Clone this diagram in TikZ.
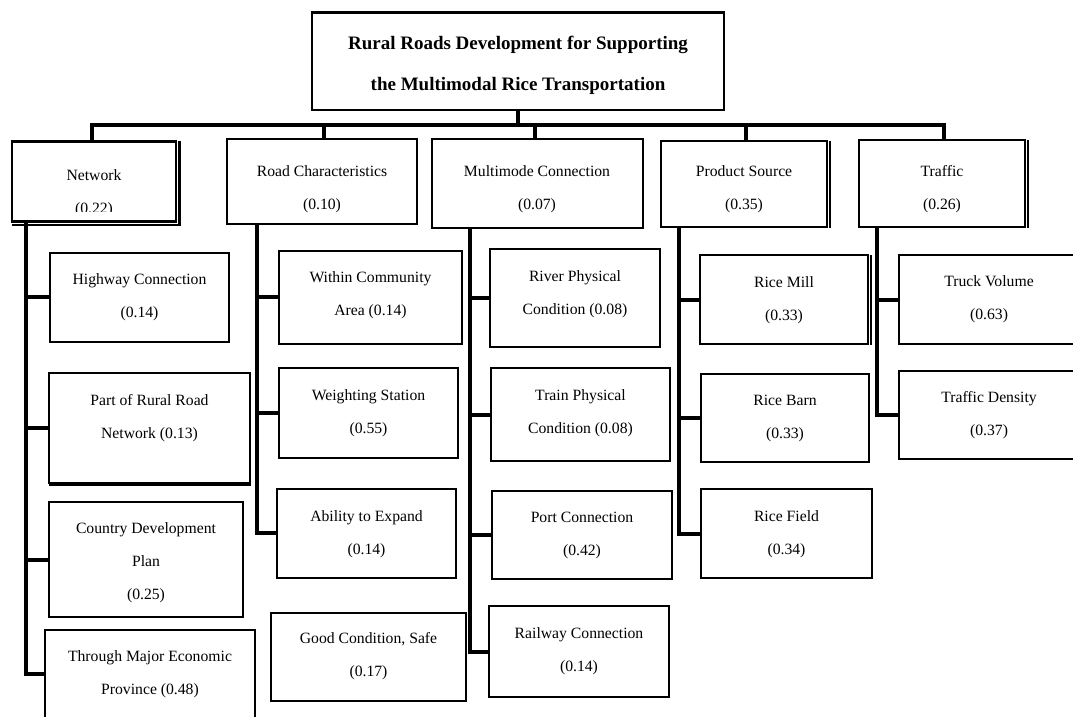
\documentclass[tikz,border=0pt]{standalone}
\usepackage{fontspec}
\setmainfont{Liberation Serif}
\begin{document}
\begin{tikzpicture}[x=1pt,y=-1pt,
  box/.style={draw=black, line width=2pt, fill=white, inner sep=0pt},
  rootbox/.style={box, line width=2.5pt},
  txt/.style={font=\fontsize{15.7}{33}\selectfont, align=center, inner sep=0pt},
  ttl/.style={font=\fontsize{19}{41}\selectfont\bfseries, align=center, inner sep=0pt},
  conn/.style={draw=black, line width=4pt, line join=miter},
  edge/.style={draw=black, line width=2.5pt}]
\newcommand\bxx[8][box]{%
  \node[#1, minimum width={(#5-#3)*1pt}, minimum height={(#6-#4)*1pt}] (#2) at ({(#3+#5)/2},{(#4+#6)/2}) {};
  \node[txt] (#2-t) at ({(#3+#5)/2},#7) {#8};}
\fill[white] (0,0) rectangle (1073,717);
\useasboundingbox (0,0) rectangle (1073,717);
% root
\node[rootbox, minimum width=412pt, minimum height=97.3pt] (root) at (518,61.35) {};
\node[ttl] (root-t) at (518,65.5) {Rural Roads Development for Supporting\\the Multimodal Rice Transportation};
% level 1
\bxx[box, line width=2.6pt]{net}{12}{141.7}{176}{221.7}{0}{}
\begin{scope}
  \clip (14,150) rectangle (174,211.5);
  \node[txt] (net-t) at (94,193) {Network\\(0.22)};
\end{scope}
\bxx{rc}{227}{139.3}{417}{224}{189}{Road Characteristics\\(0.10)}
\bxx{mm}{431.5}{139.3}{642.5}{228.3}{189}{Multimode Connection\\(0.07)}
\bxx{ps}{661}{140.7}{827}{227.3}{189}{Product Source\\(0.35)}
\bxx{tr}{859}{140}{1025}{226.7}{189}{Traffic\\(0.26)}
% level 2
\bxx{hc}{50}{252.7}{229}{341.7}{297.5}{Highway Connection\\(0.14)}
\bxx{pr}{49}{373.3}{250}{482.7}{418}{Part of Rural Road\\Network (0.13)}
\bxx{cd}{49}{501.7}{243}{617.3}{562.5}{Country Development\\Plan\\(0.25)}
\bxx{tm}{45}{630}{255}{722}{674.5}{Through Major Economic\\Province (0.48)}
\bxx{wc}{279}{250.7}{462}{344}{295}{Within Community\\Area (0.14)}
\bxx{ws}{279}{368.3}{458}{457.7}{413}{Weighting Station\\(0.55)}
\bxx{ae}{277}{489}{456}{577.7}{534}{Ability to Expand\\(0.14)}
\bxx{gc}{271}{612.7}{466}{700.7}{656.5}{Good Condition, Safe\\(0.17)}
\bxx{rp}{490}{249.3}{660}{347.3}{294}{River Physical\\Condition (0.08)}
\bxx{tp}{491}{368.3}{670}{460.7}{413}{Train Physical\\Condition (0.08)}
\bxx{pc}{492}{490.7}{672}{579}{535}{Port Connection\\(0.42)}
\bxx{rw}{489}{606}{669}{697}{651}{Railway Connection\\(0.14)}
\bxx{rm}{700}{255}{868}{344}{300}{Rice Mill\\(0.33)}
\bxx{rb}{701}{374}{869}{462}{418}{Rice Barn\\(0.33)}
\bxx{rf}{701}{489}{872}{578}{534}{Rice Field\\(0.34)}
\bxx{tv}{899}{255}{1079}{344}{299.5}{Truck Volume\\(0.63)}
\bxx{td}{899}{370.7}{1079}{459}{415.3}{Traffic Density\\(0.37)}
% thick edges
\draw[edge] ([xshift=2pt,yshift=-1pt]net.north east) -- ([xshift=2pt,yshift=-2pt]net.south east) -- ([xshift=1pt,yshift=-2pt]net.south west);
\draw[edge] ([xshift=2pt,yshift=-1pt]ps.north east) -- ([xshift=2pt]ps.south east);
\draw[edge] ([xshift=2pt,yshift=-1pt]tr.north east) -- ([xshift=2pt]tr.south east);
\draw[edge] ([xshift=2pt,yshift=-1pt]rm.north east) -- ([xshift=2pt]rm.south east);
\draw[edge] ([xshift=1pt,yshift=-1.5pt]pr.south west) -- ([yshift=-1.5pt]pr.south east);
% top connectors
\coordinate (bus) at (0,125);
\draw[conn] (root.south) -- (root.south |- bus);
\draw[conn] ([xshift=-2pt]net.north) |- ([xshift=2pt]tr.north |- bus) -- ([xshift=2pt]tr.north);
\draw[conn] ([xshift=2pt]rc.north) -- ([xshift=2pt]rc.north |- bus);
\draw[conn] ([xshift=-2pt]mm.north) -- ([xshift=-2pt]mm.north |- bus);
\draw[conn] ([xshift=2pt]ps.north) -- ([xshift=2pt]ps.north |- bus);
% spines
\coordinate (netS) at ([xshift=15.5pt]net.south west);
\coordinate (rcS) at ([xshift=31pt]rc.south west);
\coordinate (mmS) at ([xshift=39pt]mm.south west);
\coordinate (psS) at ([xshift=19pt]ps.south west);
\coordinate (trS) at ([xshift=19pt]tr.south west);
\draw[conn] (netS) |- ([yshift=2pt]tm.west);
\draw[conn] (netS) |- (hc.west);
\draw[conn] (netS) |- (pr.west);
\draw[conn] (netS) |- (cd.west);
\draw[conn] (rcS) |- (ae.west);
\draw[conn] (rcS) |- (wc.west);
\draw[conn] (rcS) |- (ws.west);
\draw[conn] (mmS) |- (rw.west);
\draw[conn] (mmS) |- (rp.west);
\draw[conn] (mmS) |- (tp.west);
\draw[conn] (mmS) |- (pc.west);
\draw[conn] (psS) |- (rf.west);
\draw[conn] (psS) |- (rm.west);
\draw[conn] (psS) |- (rb.west);
\draw[conn] (trS) |- (td.west);
\draw[conn] (trS) |- (tv.west);
\end{tikzpicture}
\end{document}
